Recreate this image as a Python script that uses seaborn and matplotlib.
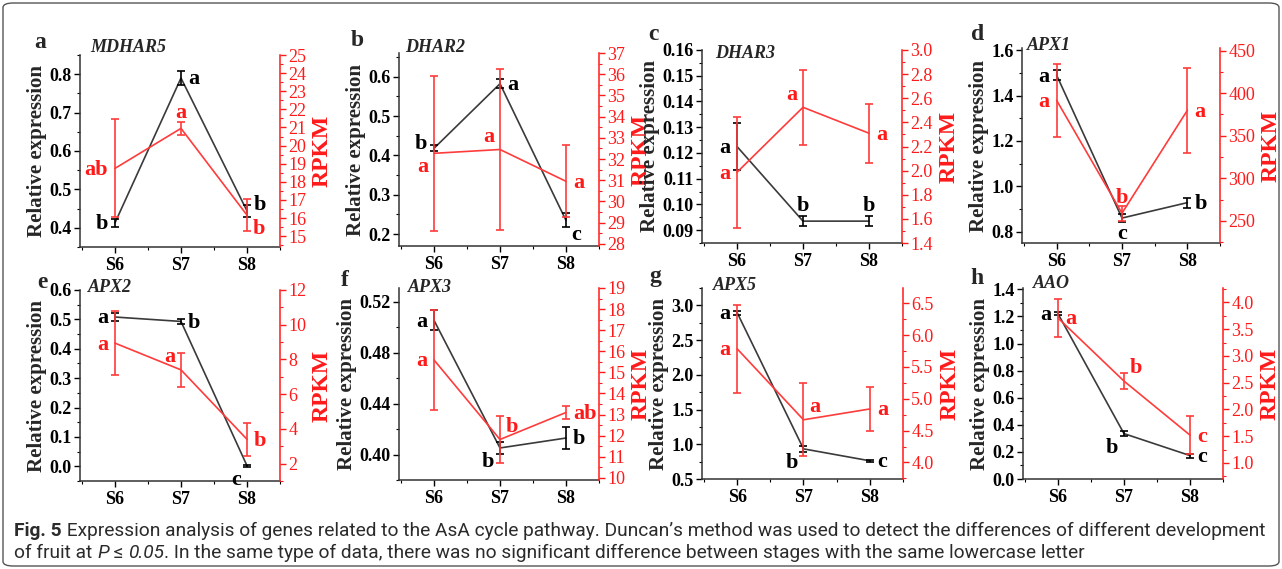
import numpy as np
import pandas as pd
import matplotlib
matplotlib.use("Agg")
import matplotlib.pyplot as plt
import seaborn as sns
from matplotlib.ticker import AutoMinorLocator, MultipleLocator
from matplotlib.patches import FancyBboxPatch

sns.set_theme(style="ticks")
plt.rcParams["font.family"] = ["Liberation Serif", "DejaVu Serif"]

stages = ["S6", "S7", "S8"]
panel_ids = ["a", "b", "c", "d", "e", "f", "g", "h"]
genes = ["MDHAR5", "DHAR2", "DHAR3", "APX1", "APX2", "APX3", "APX5", "AAO"]

# relative expression (black, left axis)
rel_mdhar5 = [0.413, 0.790, 0.444]
rel_dhar2 = [0.418, 0.582, 0.235]
rel_dhar3 = [0.1225, 0.0935, 0.0935]
rel_apx1 = [1.49, 0.86, 0.928]
rel_apx2 = [0.508, 0.493, 0.002]
rel_apx3 = [0.5056, 0.4052, 0.413]
rel_apx5 = [2.894, 0.934, 0.762]
rel_aao = [1.22, 0.335, 0.173]
rel_err_mdhar5 = [0.010, 0.018, 0.015]
rel_err_dhar2 = [0.008, 0.012, 0.018]
rel_err_dhar3 = [0.009, 0.0018, 0.0018]
rel_err_apx1 = [0.022, 0.018, 0.022]
rel_err_apx2 = [0.014, 0.008, 0.003]
rel_err_apx3 = [0.008, 0.005, 0.009]
rel_err_apx5 = [0.03, 0.04, 0.012]
rel_err_aao = [0.012, 0.02, 0.015]

# RPKM (red, right axis)
rpkm_mdhar5 = [18.74, 20.95, 16.16]
rpkm_dhar2 = [32.27, 32.45, 30.95]
rpkm_dhar3 = [1.986, 2.525, 2.31]
rpkm_apx1 = [391.5, 259.0, 379.8]
rpkm_apx2 = [8.94, 7.40, 3.40]
rpkm_apx3 = [15.59, 11.82, 13.10]
rpkm_apx5 = [5.785, 4.67, 4.84]
rpkm_aao = [3.71, 2.53, 1.52]
rpkm_err_mdhar5 = [2.7, 0.35, 0.9]
rpkm_err_dhar2 = [3.65, 3.8, 1.7]
rpkm_err_dhar3 = [0.46, 0.31, 0.245]
rpkm_err_apx1 = [43.0, 9.0, 50.0]
rpkm_err_apx2 = [1.83, 0.97, 0.96]
rpkm_err_apx3 = [2.35, 1.1, 0.3]
rpkm_err_apx5 = [0.69, 0.575, 0.345]
rpkm_err_aao = [0.35, 0.15, 0.35]

# significance letters
rel_letters = [["b", "a", "b"], ["b", "a", "c"], ["a", "b", "b"], ["a", "c", "b"],
               ["a", "b", "c"], ["a", "b", "b"], ["a", "b", "c"], ["a", "b", "c"]]
rpkm_letters = [["ab", "a", "b"], ["a", "a", "a"], ["a", "a", "a"], ["a", "b", "a"],
                ["a", "a", "b"], ["a", "b", "ab"], ["a", "a", "a"], ["a", "b", "c"]]

rel_vals = [rel_mdhar5, rel_dhar2, rel_dhar3, rel_apx1, rel_apx2, rel_apx3, rel_apx5, rel_aao]
rel_errs = [rel_err_mdhar5, rel_err_dhar2, rel_err_dhar3, rel_err_apx1, rel_err_apx2,
            rel_err_apx3, rel_err_apx5, rel_err_aao]
rpkm_vals = [rpkm_mdhar5, rpkm_dhar2, rpkm_dhar3, rpkm_apx1, rpkm_apx2, rpkm_apx3, rpkm_apx5, rpkm_aao]
rpkm_errs = [rpkm_err_mdhar5, rpkm_err_dhar2, rpkm_err_dhar3, rpkm_err_apx1, rpkm_err_apx2,
             rpkm_err_apx3, rpkm_err_apx5, rpkm_err_aao]

# ---------- layout / style ----------
W, H = 1282, 569
fig = plt.figure(figsize=(W / 100, H / 100), dpi=100)
fig.patch.set_facecolor("white")

boxes = [(80, 55, 280, 247), (399, 53, 599, 246), (702, 50, 902, 243), (1022, 48, 1220, 243),
         (80, 290, 280, 481), (399, 288, 599, 480), (702, 288, 903, 479), (1023, 288, 1223, 479)]
left_lims = [(0.35, 0.85), (0.17, 0.66), (0.085, 0.16), (0.75, 1.61),
             (-0.05, 0.6), (0.38, 0.531), (0.5, 3.25), (0.0, 1.41)]
left_steps = [0.1, 0.1, 0.01, 0.2, 0.1, 0.04, 0.5, 0.2]
left_fmt = ["%.1f", "%.1f", "%.2f", "%.1f", "%.1f", "%.2f", "%.1f", "%.1f"]
right_lims = [(14.4, 25.0), (27.9, 37.0), (1.4, 3.0), (224, 453),
              (1.0, 12.0), (9.9, 19.0), (3.74, 6.74), (0.7, 4.27)]
right_steps = [1, 1, 0.2, 50, 2, 1, 0.5, 0.5]
right_fmt = ["%d", "%d", "%.1f", "%d", "%d", "%d", "%.1f", "%.1f"]

rel_pos = [["L", "R", "Rh"], ["Lh", "R", "RD"], ["L", "U", "U"], ["L", "D", "R"],
           ["L", "R", "LD"], ["L", "LD", "R"], ["L", "LD", "R"], ["L", "LD", "R"]]
rpkm_pos = [["L", "U", "RD"], ["LD", "LU", "R"], ["L", "LU", "R"], ["L", "U", "R"],
            ["L", "LU", "R"], ["L", "RU", "R"], ["L", "RU", "R"], ["R", "RU", "R"]]
offs = {"L": ((-5, -1), "right", "center"), "R": ((5, -1), "left", "center"),
        "Rh": ((5, 4), "left", "center"), "Lh": ((-5, 3), "right", "center"),
        "U": ((0, 4), "center", "bottom"), "D": ((0, -4), "center", "top"),
        "LU": ((-4, 2), "right", "bottom"), "LD": ((-4, -3), "right", "top"),
        "RU": ((4, 2), "left", "bottom"), "RD": ((4, -3), "left", "top")}

letter_pix = [(40, 42), (357, 40), (653, 35), (978, 35), (42, 282), (345, 280), (655, 277), (977, 278)]
gene_pix = [(90, 47), (405, 48), (715, 53), (1027, 45), (88, 288), (408, 287), (713, 285), (1033, 283)]

RED = "#FF1A1A"
RED_LINE = "#FF3B3B"
BLACK_LINE = "#3A3A3A"
x = np.arange(3)

for i in range(8):
    l, t, r, b = boxes[i]
    ax = fig.add_axes([l / W, 1 - b / H, (r - l) / W, (b - t) / H])
    ax2 = ax.twinx()
    df = pd.DataFrame({"x": x, "rel": rel_vals[i], "rpkm": rpkm_vals[i]})

    sns.lineplot(data=df, x="x", y="rel", ax=ax, color=BLACK_LINE, lw=1.2)
    ax.errorbar(x, rel_vals[i], yerr=rel_errs[i], fmt="none", ecolor="black",
                elinewidth=1.2, capsize=3, capthick=1.2)
    sns.lineplot(data=df, x="x", y="rpkm", ax=ax2, color=RED_LINE, lw=1.2)
    ax2.errorbar(x, rpkm_vals[i], yerr=rpkm_errs[i], fmt="none", ecolor=RED_LINE,
                 elinewidth=1.2, capsize=3, capthick=1.2)

    ax.set_xlim(-0.53, 2.5)
    ax.set_xticks(x)
    ax.set_xticklabels(stages, fontsize=13, fontweight="bold")
    ax.xaxis.set_minor_locator(MultipleLocator(0.5))
    ax.yaxis.set_major_locator(MultipleLocator(left_steps[i]))
    ax.yaxis.set_minor_locator(AutoMinorLocator(2))
    ax.yaxis.set_major_formatter(matplotlib.ticker.FormatStrFormatter(left_fmt[i]))
    ax2.yaxis.set_major_locator(MultipleLocator(right_steps[i]))
    ax2.yaxis.set_minor_locator(AutoMinorLocator(2))
    ax2.yaxis.set_major_formatter(matplotlib.ticker.FormatStrFormatter(right_fmt[i]))
    ax.set_ylim(*left_lims[i])
    ax2.set_ylim(*right_lims[i])

    for lab in ax.get_yticklabels():
        lab.set_fontweight("bold")
        lab.set_fontsize(13)
    for lab in ax2.get_yticklabels():
        lab.set_fontsize(13)
        lab.set_color(RED)

    ax.tick_params(axis="both", which="major", direction="out", length=4, width=1, colors="black", pad=2)
    ax.tick_params(axis="both", which="minor", direction="out", length=2.5, width=0.8, colors="black")
    ax2.tick_params(axis="y", which="major", direction="out", length=4, width=1, colors=RED, pad=2)
    ax2.tick_params(axis="y", which="minor", direction="out", length=2.5, width=0.8, colors=RED)
    ax.tick_params(axis="x", which="major", pad=3)

    ax.set_xlabel("")
    ax.set_ylabel("Relative expression", fontsize=15, fontweight="bold", labelpad=2)
    ax2.set_ylabel("RPKM", fontsize=17, fontweight="bold", color=RED, labelpad=4)

    for ax_ in (ax, ax2):
        ax_.spines["top"].set_visible(False)
    ax.spines["right"].set_visible(False)
    ax2.spines["left"].set_visible(False)
    ax2.spines["bottom"].set_visible(False)
    ax2.spines["right"].set_color(RED)
    ax.spines["left"].set_color("#333333")
    ax.spines["bottom"].set_color("#333333")
    for s in ("left", "bottom"):
        ax.spines[s].set_linewidth(1.1)
    ax2.spines["right"].set_linewidth(1.1)

    for j in range(3):
        (dx, dy), ha, va = offs[rel_pos[i][j]]
        ax.annotate(rel_letters[i][j], xy=(x[j], rel_vals[i][j]), xytext=(dx, dy),
                    textcoords="offset points", ha=ha, va=va, fontsize=16,
                    fontweight="bold", color="black")
        (dx, dy), ha, va = offs[rpkm_pos[i][j]]
        ax2.annotate(rpkm_letters[i][j], xy=(x[j], rpkm_vals[i][j]), xytext=(dx, dy),
                     textcoords="offset points", ha=ha, va=va, fontsize=16,
                     fontweight="bold", color=RED)

    lx, ly = letter_pix[i]
    fig.text(lx / W, 1 - ly / H, panel_ids[i], fontsize=17, fontweight="bold",
             ha="center", va="center")
    gx, gy = gene_pix[i]
    fig.text(gx / W, 1 - gy / H, genes[i], fontsize=13, fontweight="bold",
             fontstyle="italic", ha="left", va="center")

# ---------- caption ----------
cap_font = ["Liberation Sans Narrow", "Roboto", "DejaVu Sans"]
line1 = [("Fig. 5", "bold", "normal"),
         (" Expression analysis of genes related to the AsA cycle pathway. Duncan\u2019s method was used to detect the differences of different development", "normal", "normal")]
line2 = [("of fruit at ", "normal", "normal"), ("P", "normal", "italic"), (" \u2264 ", "normal", "normal"),
         ("0.05", "normal", "italic"),
         (". In the same type of data, there was no significant difference between stages with the same lowercase letter", "normal", "normal")]

renderer = fig.canvas.get_renderer()


def place_line(parts, x0, y0, fs):
    xc = x0
    for txt, wgt, sty in parts:
        t = fig.text(xc / W, 1 - y0 / H, txt, fontsize=fs, fontweight=wgt, fontstyle=sty,
                     family=cap_font, color="#2b2b2b", ha="left", va="center")
        bb = t.get_window_extent(renderer=renderer)
        xc += bb.width
    return xc - x0


tmp = fig.text(0, 0, line1[0][0] + line1[1][0], fontsize=12, family=cap_font)
w12 = tmp.get_window_extent(renderer=renderer).width
tmp.remove()
fs = 12 * (1248 / w12)
place_line(line1, 14, 531, fs)
place_line(line2, 14, 553, fs)

border = FancyBboxPatch((3 / W, 3 / H), 1 - 6 / W, 1 - 6 / H,
                        boxstyle="round,pad=0,rounding_size=0.008",
                        transform=fig.transFigure, fill=False, ec="#555555", lw=1.0)
fig.patches.append(border)

fig.savefig("out.png", dpi=100)
